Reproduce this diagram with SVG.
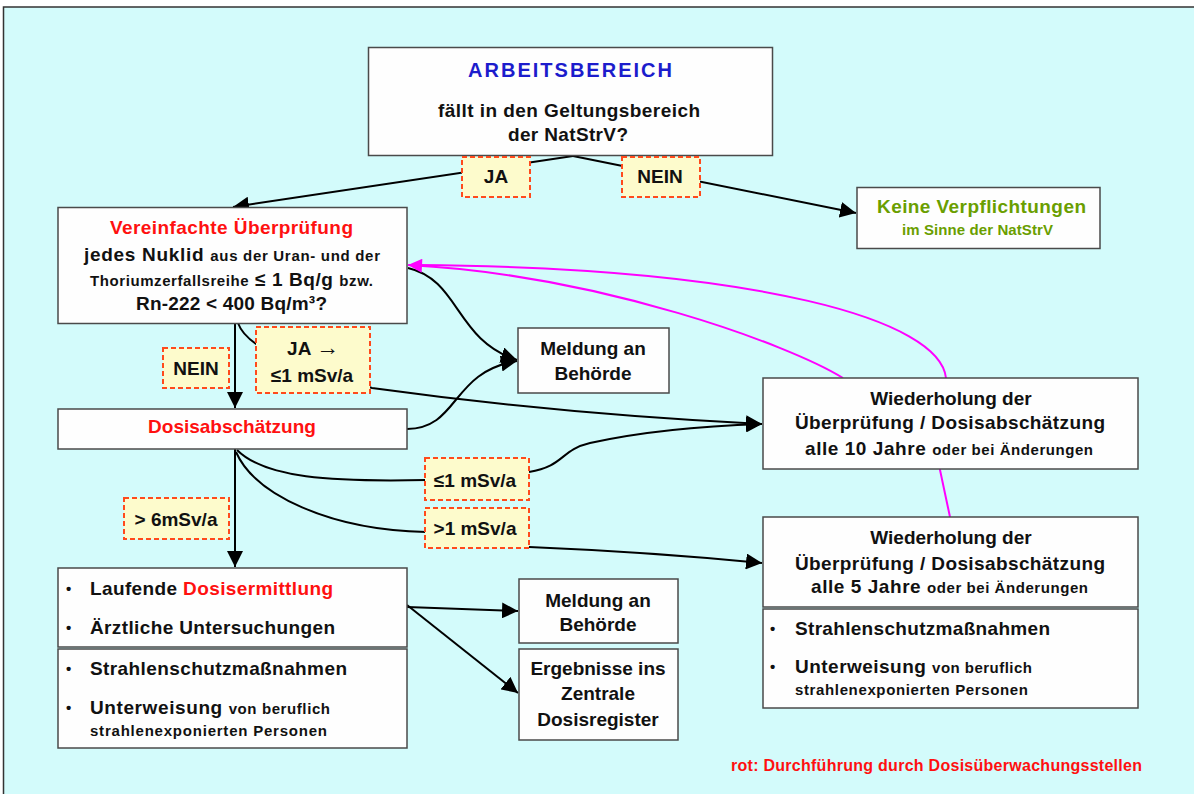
<svg xmlns="http://www.w3.org/2000/svg" width="1194" height="794" viewBox="0 0 1194 794">
<defs>
<style>
.box{fill:#fefefe;stroke:#4a4a4a;stroke-width:1.5}
.lbl{fill:#fdfbcc;stroke:#ff4a1c;stroke-width:2;stroke-dasharray:5 3}
text{font-family:"Liberation Sans",Arial,sans-serif;font-weight:bold;font-size:19px;fill:#111}
.s{font-size:15px}
.red{fill:#ff1010}
.c{text-anchor:middle}
.con{fill:none;stroke:#000;stroke-width:2}
.mag{fill:none;stroke:#ff00ff;stroke-width:2}
</style>
<marker id="ah" viewBox="0 0 16 16" refX="16" refY="8" markerWidth="16" markerHeight="16" markerUnits="userSpaceOnUse" orient="auto"><path d="M0,0 L16,8 L0,16 z" fill="#000"/></marker>
<marker id="mh" viewBox="0 0 16 16" refX="16" refY="8" markerWidth="15" markerHeight="14" markerUnits="userSpaceOnUse" orient="auto"><path d="M0,0 L16,8 L0,16 z" fill="#ff00ff"/></marker>
</defs>
<rect x="0" y="0" width="1194" height="794" fill="#ffffff"/>
<rect x="3.5" y="7" width="1200" height="800" fill="#d3fbfb" stroke="#333" stroke-width="1.5"/>

<g id="connectors">
<path class="con" d="M573,156 L233,207" marker-end="url(#ah)"/>
<path class="con" d="M573,156 L856,213" marker-end="url(#ah)"/>
<path class="con" d="M235,323 L235,408" marker-end="url(#ah)"/>
<path class="con" d="M238,323 Q246,346 300,365 L372,388 Q560,414 762,424" marker-end="url(#ah)"/>
<path class="con" d="M408,268 C460,280 455,340 517,360" marker-end="url(#ah)"/>
<path class="con" d="M407,429 C460,428 450,372 517,361" marker-end="url(#ah)"/>
<path class="con" d="M237,450 C265,478 330,482 426,480"/>
<path class="con" d="M529,472 C565,466 560,450 590,443 C640,432 700,426 762,424" marker-end="url(#ah)"/>
<path class="con" d="M236,452 C255,495 330,530 426,532"/>
<path class="con" d="M529,547 Q650,552 762,563" marker-end="url(#ah)"/>
<path class="con" d="M235,449 L235,567" marker-end="url(#ah)"/>
<path class="con" d="M407,607 L518,611" marker-end="url(#ah)"/>
<path class="con" d="M407,605 L518,693" marker-end="url(#ah)"/>
<path class="mag" d="M950,517 L940,470 L946,378 C940,320 760,268 418,265"/>
<path class="mag" d="M843,378 C790,345 600,275 408,265" marker-end="url(#mh)"/>
</g>

<g id="n-arbeitsbereich">
<rect class="box" x="368.5" y="47.5" width="404" height="108"/>
<text x="468" y="77" textLength="204" lengthAdjust="spacing" style="fill:#1c1ccc;font-size:20px">ARBEITSBEREICH</text>
<text x="438" y="117" textLength="262" lengthAdjust="spacing">fällt in den Geltungsbereich</text>
<text x="508" y="141" textLength="120" lengthAdjust="spacing">der NatStrV?</text>
</g>

<g id="l-ja">
<rect class="lbl" x="462" y="157" width="68" height="40"/>
<text class="c" x="496" y="183">JA</text>
</g>
<g id="l-nein">
<rect class="lbl" x="622" y="157" width="78" height="40"/>
<text class="c" x="660" y="183">NEIN</text>
</g>

<g id="n-keine">
<rect class="box" x="857" y="187.5" width="243" height="61"/>
<text x="877" y="213" textLength="209" lengthAdjust="spacing" style="fill:#6a9e00">Keine Verpflichtungen</text>
<text class="s" x="902" y="235" textLength="151" lengthAdjust="spacing" style="fill:#6a9e00">im Sinne der NatStrV</text>
</g>

<g id="n-vereinfacht">
<rect class="box" x="58" y="207.5" width="349" height="116"/>
<text class="red" x="110" y="234" textLength="243" lengthAdjust="spacing">Vereinfachte Überprüfung</text>
<text x="84" y="261" textLength="296" lengthAdjust="spacing">jedes Nuklid <tspan class="s">aus der Uran- und der</tspan></text>
<text x="90" y="286" textLength="283" lengthAdjust="spacing"><tspan class="s">Thoriumzerfallsreihe</tspan> ≤ 1 Bq/g <tspan class="s">bzw.</tspan></text>
<text x="136" y="310" textLength="191" lengthAdjust="spacing">Rn-222 &lt; 400 Bq/m³?</text>
</g>

<g id="l-nein2">
<rect class="lbl" x="163" y="348" width="66" height="40"/>
<text class="c" x="196" y="375">NEIN</text>
</g>
<g id="l-ja2">
<rect class="lbl" x="256" y="327" width="114" height="66"/>
<text class="c" x="313" y="355">JA <tspan style="font-size:23px">→</tspan></text>
<text class="c" x="312" y="382">≤1 mSv/a</text>
</g>

<g id="n-meldung1">
<rect class="box" x="518" y="328" width="151" height="65"/>
<text class="c" x="593" y="355">Meldung an</text>
<text class="c" x="593" y="380">Behörde</text>
</g>

<g id="n-dosis">
<rect class="box" x="58" y="409" width="349" height="40"/>
<text class="c red" x="232" y="433">Dosisabschätzung</text>
</g>

<g id="l-le1">
<rect class="lbl" x="425" y="458" width="104" height="42"/>
<text class="c" x="475" y="487">≤1 mSv/a</text>
</g>
<g id="l-gt1">
<rect class="lbl" x="425" y="508" width="104" height="40"/>
<text class="c" x="475" y="535">&gt;1 mSv/a</text>
</g>
<g id="l-gt6">
<rect class="lbl" x="124" y="498" width="105" height="41"/>
<text class="c" x="176" y="526">&gt; 6mSv/a</text>
</g>

<g id="n-wdh10">
<rect class="box" x="763" y="378" width="375" height="91"/>
<text class="c" x="951" y="405">Wiederholung der</text>
<text x="795" y="429" textLength="310" lengthAdjust="spacing">Überprüfung / Dosisabschätzung</text>
<text x="805" y="455" textLength="288" lengthAdjust="spacing">alle 10 Jahre <tspan class="s">oder bei Änderungen</tspan></text>
</g>

<g id="n-wdh5">
<rect class="box" x="763" y="517" width="375" height="90"/>
<text class="c" x="951" y="544">Wiederholung der</text>
<text x="795" y="570" textLength="310" lengthAdjust="spacing">Überprüfung / Dosisabschätzung</text>
<text x="811" y="593" textLength="277" lengthAdjust="spacing">alle 5 Jahre <tspan class="s">oder bei Änderungen</tspan></text>
</g>

<g id="n-massnahmen5">
<rect class="box" x="763" y="609" width="375" height="99"/>
<text class="s" x="770" y="634">•</text>
<text x="795" y="635" textLength="255" lengthAdjust="spacing">Strahlenschutzmaßnahmen</text>
<text class="s" x="770" y="672">•</text>
<text x="795" y="673" textLength="237" lengthAdjust="spacing">Unterweisung <tspan class="s">von beruflich</tspan></text>
<text class="s" x="795" y="695" textLength="233" lengthAdjust="spacing">strahlenexponierten Personen</text>
</g>

<g id="n-laufend">
<rect class="box" x="58" y="568" width="349" height="79"/>
<text class="s" x="66" y="594">•</text>
<text x="90" y="595" textLength="243" lengthAdjust="spacing">Laufende <tspan class="red">Dosisermittlung</tspan></text>
<text class="s" x="66" y="633">•</text>
<text x="90" y="634" textLength="245" lengthAdjust="spacing">Ärztliche Untersuchungen</text>
</g>

<g id="n-massnahmen">
<rect class="box" x="58" y="649" width="349" height="99"/>
<text class="s" x="66" y="674">•</text>
<text x="90" y="675" textLength="257" lengthAdjust="spacing">Strahlenschutzmaßnahmen</text>
<text class="s" x="66" y="713">•</text>
<text x="90" y="714" textLength="240" lengthAdjust="spacing">Unterweisung <tspan class="s">von beruflich</tspan></text>
<text class="s" x="90" y="736" textLength="237" lengthAdjust="spacing">strahlenexponierten Personen</text>
</g>

<g id="n-meldung2">
<rect class="box" x="519" y="579" width="159" height="64"/>
<text class="c" x="598" y="607">Meldung an</text>
<text class="c" x="598" y="631">Behörde</text>
</g>

<g id="n-ergebnisse">
<rect class="box" x="519" y="649" width="159" height="91"/>
<text class="c" x="598" y="675">Ergebnisse ins</text>
<text class="c" x="598" y="700">Zentrale</text>
<text class="c" x="598" y="726">Dosisregister</text>
</g>

<g id="footer">
<text class="red" x="731" y="771" textLength="411" lengthAdjust="spacing" style="font-size:16px">rot: Durchführung durch Dosisüberwachungsstellen</text>
</g>
</svg>
